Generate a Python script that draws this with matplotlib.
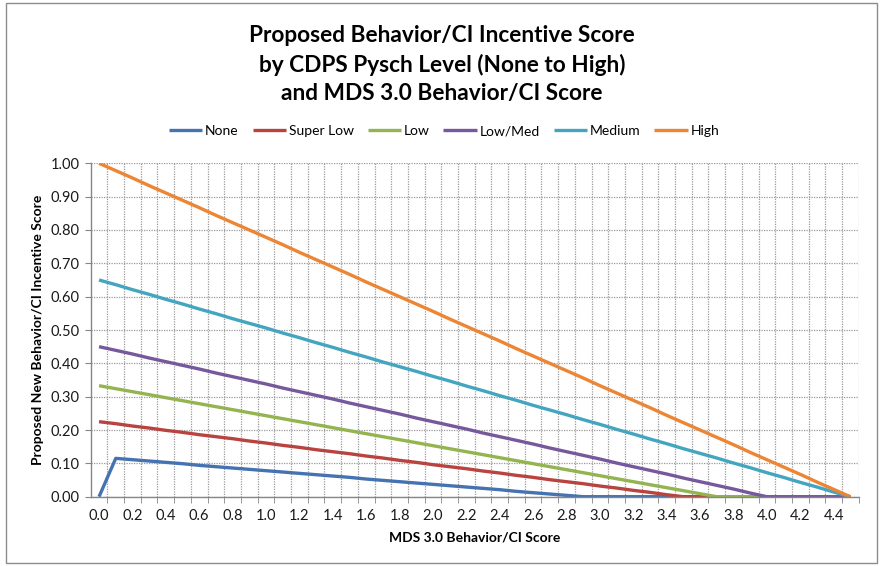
import matplotlib
matplotlib.use("Agg")
import matplotlib.pyplot as plt
from matplotlib.patches import Rectangle

plt.rcParams['font.family'] = ['Lato', 'DejaVu Sans']

categories = [f"{i/10:.1f}" for i in range(46)]

none_vals = [0.000, 0.115, 0.111, 0.107, 0.103, 0.099, 0.094, 0.090, 0.086, 0.082,
             0.078, 0.074, 0.070, 0.066, 0.062, 0.058, 0.053, 0.049, 0.045, 0.041,
             0.037, 0.033, 0.029, 0.025, 0.021, 0.016, 0.012, 0.008, 0.004, 0.000,
             0, 0, 0, 0, 0, 0, 0, 0, 0, 0, 0, 0, 0, 0, 0, 0]
super_low = [0.225, 0.219, 0.212, 0.206, 0.199, 0.193, 0.186, 0.180, 0.174, 0.167,
             0.161, 0.154, 0.148, 0.141, 0.135, 0.129, 0.122, 0.116, 0.109, 0.103,
             0.096, 0.090, 0.084, 0.077, 0.071, 0.064, 0.058, 0.051, 0.045, 0.039,
             0.032, 0.026, 0.019, 0.013, 0.006, 0.000,
             0, 0, 0, 0, 0, 0, 0, 0, 0, 0]
low = [0.333, 0.324, 0.315, 0.306, 0.297, 0.288, 0.279, 0.270, 0.261, 0.252,
       0.243, 0.234, 0.225, 0.216, 0.207, 0.198, 0.189, 0.180, 0.171, 0.162,
       0.153, 0.144, 0.135, 0.126, 0.117, 0.108, 0.099, 0.090, 0.081, 0.072,
       0.063, 0.054, 0.045, 0.036, 0.027, 0.018, 0.009, 0.000,
       0, 0, 0, 0, 0, 0, 0, 0]
low_med = [0.450, 0.439, 0.428, 0.416, 0.405, 0.394, 0.383, 0.371, 0.360, 0.349,
           0.338, 0.326, 0.315, 0.304, 0.293, 0.281, 0.270, 0.259, 0.248, 0.236,
           0.225, 0.214, 0.203, 0.191, 0.180, 0.169, 0.158, 0.146, 0.135, 0.124,
           0.113, 0.101, 0.090, 0.079, 0.068, 0.056, 0.045, 0.034, 0.023, 0.011,
           0.000, 0, 0, 0, 0, 0]
medium = [0.650, 0.636, 0.621, 0.607, 0.592, 0.578, 0.563, 0.549, 0.534, 0.520,
          0.506, 0.491, 0.477, 0.462, 0.448, 0.433, 0.419, 0.404, 0.390, 0.376,
          0.361, 0.347, 0.332, 0.318, 0.303, 0.289, 0.274, 0.260, 0.246, 0.231,
          0.217, 0.202, 0.188, 0.173, 0.159, 0.144, 0.130, 0.116, 0.101, 0.087,
          0.072, 0.058, 0.043, 0.029, 0.014, 0.000]
high = [1.000, 0.978, 0.956, 0.933, 0.911, 0.889, 0.867, 0.844, 0.822, 0.800,
        0.778, 0.756, 0.733, 0.711, 0.689, 0.667, 0.644, 0.622, 0.600, 0.578,
        0.556, 0.533, 0.511, 0.489, 0.467, 0.444, 0.422, 0.400, 0.378, 0.356,
        0.333, 0.311, 0.289, 0.267, 0.244, 0.222, 0.200, 0.178, 0.156, 0.133,
        0.111, 0.089, 0.067, 0.044, 0.022, 0.000]

series_names = ["None", "Super Low", "Low", "Low/Med", "Medium", "High"]
series_vals = [none_vals, super_low, low, low_med, medium, high]
colors = ["#4572B0", "#B8433F", "#93B44F", "#76599C", "#43A5C0", "#EC8534"]

W, H = 883, 566
fig = plt.figure(figsize=(W / 100, H / 100), dpi=100)
fig.patches.append(Rectangle((6 / W, 3 / H), 871 / W, 560 / H, transform=fig.transFigure,
                             fill=False, edgecolor="#8C8C8C", linewidth=1.0))

left, right, top, bottom = 90.7, 858.7, 163.3, 496.7
ax = fig.add_axes([left / W, 1 - bottom / H, (right - left) / W, (bottom - top) / H])

x = list(range(len(categories)))
for name, vals, c in zip(series_names, series_vals, colors):
    ax.plot(x, vals, color=c, linewidth=2.4, label=name, solid_capstyle="butt",
            solid_joinstyle="round")

ax.set_xlim(-0.5, len(categories) - 0.5)
ax.set_ylim(0, 1.0)
ax.set_yticks([i / 10 for i in range(11)])
ax.set_yticklabels([f"{i/10:.2f}" for i in range(11)], fontsize=10.5, color="#1a1a1a")
ax.set_xticks(x[::2])
ax.set_xticklabels(categories[::2], fontsize=10.5, color="#1a1a1a")
ax.set_xticks([i + 0.5 for i in range(len(categories))], minor=True)
ax.tick_params(axis="x", which="major", length=0, pad=9)
ax.tick_params(axis="x", which="minor", length=4, color="#868686", direction="out")
ax.tick_params(axis="y", which="major", length=4, color="#868686", direction="out", pad=4)

ax.grid(True, axis="y", which="major", linestyle=(0, (1, 1)), color="#9A9A9A", linewidth=0.9)
ax.grid(True, axis="x", which="minor", linestyle=(0, (1, 1)), color="#9A9A9A", linewidth=0.9)
ax.set_axisbelow(True)
for s in ["top", "right"]:
    ax.spines[s].set_visible(False)
for s in ["left", "bottom"]:
    ax.spines[s].set_color("#868686")
    ax.spines[s].set_linewidth(1.0)

fig.text(442 / W, 1 - 64.5 / H,
         "Proposed Behavior/CI Incentive Score\nby CDPS Pysch Level (None to High)\nand MDS 3.0 Behavior/CI Score",
         ha="center", va="center", fontsize=16.3, fontweight="bold", linespacing=1.4)

ax.set_ylabel("Proposed New Behavior/CI Incentive Score", fontsize=10, fontweight="bold", labelpad=5)
ax.set_xlabel("MDS 3.0 Behavior/CI Score", fontsize=10, fontweight="bold", labelpad=6)

leg = fig.legend(loc="center", bbox_to_anchor=(444 / W, 1 - 131 / H), ncol=6, frameon=False,
                 fontsize=10, handlelength=2.4, columnspacing=1.0, handletextpad=0.2)

fig.savefig("out.png", dpi=100)
